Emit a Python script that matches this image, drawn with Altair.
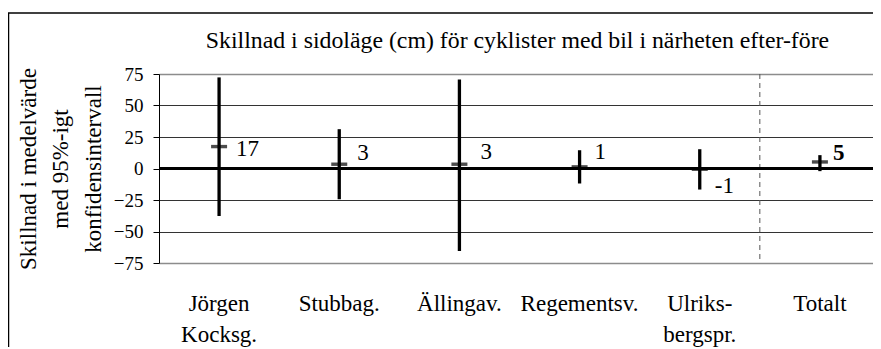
import altair as alt
import pandas as pd

# ---- data ----
categories = ["Jörgen\nKocksg.", "Stubbag.", "Ällingav.", "Regementsv.", "Ulriks-\nbergspr.", "Totalt"]
means = [17.4, 3.4, 3.4, 1.3, -0.6, 5.2]
lower = [-37.7, -24.4, -65.5, -11.9, -16.7, -2.1]
upper = [72.3, 31.2, 70.7, 14.5, 15.3, 10.6]
labels = ["17", "3", "3", "1", "-1", "5"]
y_ticks = [-75, -50, -25, 0, 25, 50, 75]

title_text = "Skillnad i sidoläge (cm) för cyklister med bil i närheten efter-före"
y_title = ["Skillnad i medelvärde", "med 95%-igt", "konfidensintervall"]

df = pd.DataFrame({"cat": categories, "mean": means, "lo": lower, "hi": upper, "lab": labels})

# label placement (pixel offsets, style only)
label_dx = [17, 18, 21, 15, 15, 13]
label_dy = [2, -11, -12, -15, 17, -9]
label_bold = [False, False, False, False, False, True]

FONT = "'Liberation Serif', 'Times New Roman', 'DejaVu Serif', serif"
W, H = 714, 189          # visible plot area (svg must fit the 865px page body)
X_RANGE = 721            # categories continue past the window edge, as in the reference

xscale = alt.Scale(type="band", paddingInner=0, paddingOuter=0, range=[0, X_RANGE])
xenc = alt.X(
    "cat:N",
    sort=categories,
    scale=xscale,
    axis=alt.Axis(
        title=None,
        labelAngle=0,
        ticks=False,
        tickSize=0,
        domain=False,
        grid=False,
        labelPadding=29,
        labelFontSize=23,
        labelLineHeight=31.5,
        labelBaseline="top",
        labelColor="black",
        labelFont=FONT,
        labelOverlap=False,
        labelBound=False,
        labelFlush=False,
        labelExpr="split(datum.label, '\\n')",
    ),
)
yscale = alt.Scale(domain=[-75, 75], nice=False, zero=False)
yenc_axis = alt.Axis(
    values=y_ticks,
    tickCount=len(y_ticks),
    title=y_title,
    titleAngle=-90,
    titleX=-124,
    titleY=H / 2,
    titleAlign="center",
    titleBaseline="alphabetic",
    titleFontSize=23,
    titleFontWeight="normal",
    titleLineHeight=32.5,
    titleFont=FONT,
    titleColor="black",
    labelFontSize=19,
    labelFont=FONT,
    labelColor="black",
    labelPadding=10,
    labelOverlap=False,
    labelBound=False,
    tickSize=6,
    tickColor="black",
    domainColor="black",
    domainWidth=1,
    grid=True,
    gridColor={"condition": {"test": "abs(datum.value) == 75", "value": "#8c8c8c"}, "value": "#333333"},
    gridWidth={"condition": {"test": "abs(datum.value) == 75", "value": 1.6}, "value": 1},
)

base = alt.Chart(df)

bars = base.mark_rule(color="black", strokeWidth=3.3).encode(
    x=xenc,
    y=alt.Y("lo:Q", scale=yscale, axis=yenc_axis),
    y2="hi:Q",
)

zero = alt.Chart(pd.DataFrame({"z": [0]})).mark_rule(color="black", strokeWidth=3).encode(
    y=alt.Y("z:Q", scale=yscale)
)

ticks = base.mark_tick(color="black", size=16, thickness=3.4, orient="horizontal").encode(
    x=alt.X("cat:N", sort=categories, scale=xscale),
    y=alt.Y("mean:Q", scale=yscale),
)

divider = base.transform_filter(alt.FieldEqualPredicate(field="cat", equal="Totalt")).mark_rule(
    color="#555555", strokeWidth=1, strokeDash=[5, 4]
).encode(x=alt.X("cat:N", sort=categories, scale=xscale, bandPosition=0))

text_layers = []
for c, dx, dy, b in zip(categories, label_dx, label_dy, label_bold):
    text_layers.append(
        base.transform_filter(alt.FieldEqualPredicate(field="cat", equal=c))
        .mark_text(
            align="left",
            baseline="middle",
            dx=dx,
            dy=dy,
            fontSize=23,
            font=FONT,
            fontWeight="bold" if b else "normal",
            color="black",
        )
        .encode(
            x=alt.X("cat:N", sort=categories, scale=xscale),
            y=alt.Y("mean:Q", scale=yscale),
            text="lab:N",
        )
    )

one = pd.DataFrame({"a": [0]})
frame_left = alt.Chart(one).mark_rule(color="black", strokeWidth=1.5).encode(
    x=alt.value(-150.5), y=alt.value(-61), y2=alt.value(420)
)
frame_top = alt.Chart(one).mark_rule(color="black", strokeWidth=1.5).encode(
    x=alt.value(-151), x2=alt.value(760), y=alt.value(-61)
)
title_mark = alt.Chart(one).mark_text(
    font=FONT, fontSize=23.8, color="black", align="center", baseline="alphabetic"
).encode(x=alt.value(358.5), y=alt.value(-25.7), text=alt.value(title_text))

chart = (
    alt.layer(bars, divider, zero, ticks, *text_layers, frame_left, frame_top, title_mark)
    .properties(
        width=W,
        height=H,
        autosize=alt.AutoSizeParams(type="none"),
        padding={"left": 151, "top": 66, "right": 0, "bottom": 84},
    )
    .configure_view(stroke=None)
    .configure(background="white")
)

chart.save("out.html", embed_options={"renderer": "svg", "actions": False})
